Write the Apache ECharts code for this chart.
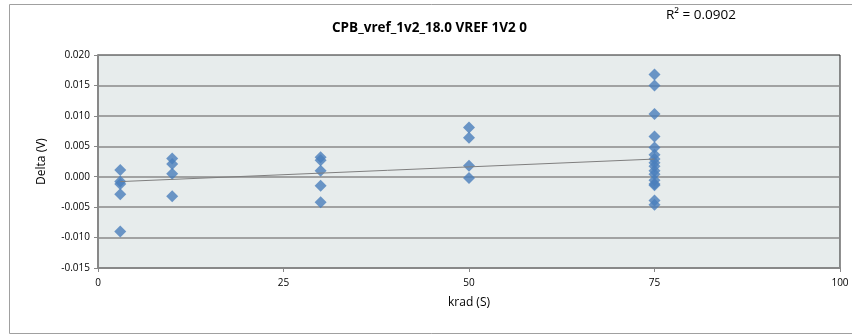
<!DOCTYPE html>
<html>
<head>
<meta charset="utf-8">
<script src="https://cdn.jsdelivr.net/npm/echarts@6/dist/echarts.min.js"></script>
<style>
  html, body { margin: 0; padding: 0; background: #fff; }
  #chart { width: 852px; height: 336px; }
</style>
</head>
<body>
<div id="chart"></div>
<script>
// krad dose of each measurement, and delta in volts
var doseKrad = [3, 3, 3, 3, 3,
                10, 10, 10, 10,
                30, 30, 30, 30, 30,
                50, 50, 50, 50,
                75, 75, 75, 75, 75, 75, 75, 75, 75, 75, 75, 75, 75, 75, 75, 75];
var deltaV = [0.0011, -0.0008, -0.0012, -0.0029, -0.0090,
              0.0030, 0.0021, 0.0005, -0.0032,
              0.0032, 0.0027, 0.0010, -0.0015, -0.0042,
              0.0081, 0.0064, 0.0018, -0.0002,
              0.0168, 0.0150, 0.0103, 0.0066, 0.0048, 0.0036, 0.0029, 0.0023,
              0.0017, 0.0010, 0.0004, -0.0006, -0.0012, -0.0014, -0.0039, -0.0046];
// linear trend line end points
var trendX = [3, 75];
var trendY = [-0.0008, 0.0029];
var xTicks = [0, 25, 50, 75, 100];
var yTicks = [-0.015, -0.010, -0.005, 0.000, 0.005, 0.010, 0.015, 0.020];

var chart = echarts.init(document.getElementById('chart'));
var font = '"Open Sans", "Liberation Sans", sans-serif';

var points = doseKrad.map(function (x, i) { return [x, deltaV[i]]; });
var trend = trendX.map(function (x, i) { return [x, trendY[i]]; });

var option = {
    backgroundColor: '#fff',
    animation: false,
    graphic: [
        { type: 'rect', shape: { x: 9.5, y: 4.5, width: 860, height: 329 },
          style: { fill: 'none', stroke: '#a0a0a0', lineWidth: 1 }, z: -1 },
        { type: 'text', left: 332, top: 21,
          style: { text: 'CPB_vref_1v2_18.0 VREF 1V2 0', font: 'bold 13.5px ' + font, fill: '#000' } },
        { type: 'text', left: 666, top: 8,
          style: { text: 'R² = 0.0902', font: '13.5px ' + font, fill: '#000' } }
    ],
    grid: {
        left: 98, right: 12, top: 55, bottom: 68,
        show: true, backgroundColor: '#e7ecec',
        borderColor: '#222', borderWidth: 1
    },
    xAxis: {
        type: 'value', min: 0, max: 100, interval: 25,
        name: 'krad (S)', nameLocation: 'middle', nameGap: 29,
        nameTextStyle: { fontFamily: font, fontSize: 12, color: '#000' },
        axisLine: { show: true, onZero: false, lineStyle: { color: '#888', width: 2 } },
        axisTick: { show: true, length: 4, lineStyle: { color: '#888' } },
        axisLabel: { fontFamily: font, fontSize: 10, color: '#000', margin: 10,
            formatter: function (v) { return xTicks.indexOf(v) >= 0 ? String(v) : ''; } },
        splitLine: { show: false }
    },
    yAxis: {
        type: 'value', min: -0.015, max: 0.020, interval: 0.005,
        name: 'Delta (V)', nameLocation: 'middle', nameGap: 50, nameRotate: 90,
        nameTextStyle: { fontFamily: font, fontSize: 12, color: '#000' },
        axisLine: { show: true, onZero: false, lineStyle: { color: '#888', width: 2 } },
        axisTick: { show: true, length: 4, lineStyle: { color: '#888' } },
        axisLabel: { fontFamily: font, fontSize: 10, color: '#000', margin: 8,
            formatter: function (v) { return v.toFixed(3); } },
        splitLine: { show: true, showMinLine: false, showMaxLine: false,
            lineStyle: { color: '#8a8a8a', width: 1.5 } }
    },
    series: [
        {
            type: 'line', data: trend, showSymbol: false, symbol: 'none',
            lineStyle: { color: '#7f7f7f', width: 1 }, z: 3
        },
        {
            type: 'scatter', data: points, symbol: 'diamond', symbolSize: 12,
            itemStyle: { color: '#4a7ebb' }, z: 2
        }
    ]
};
chart.setOption(option);
</script>
</body>
</html>
